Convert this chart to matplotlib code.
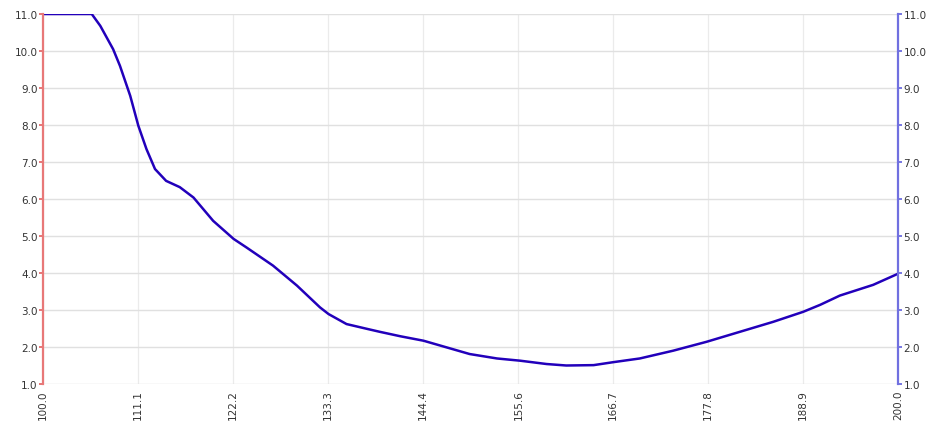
import numpy as np
import matplotlib
matplotlib.use("Agg")
import matplotlib.pyplot as plt

# values
x_vals = [100.0, 105.7, 106.7, 108.2, 109.0, 110.2, 111.15, 112.1, 113.1, 114.4,
          116.0, 117.6, 119.9, 122.3, 123.8, 126.9, 129.7, 132.4, 133.4, 135.5,
          137.9, 139.4, 141.8, 144.5, 147.2, 149.9, 153.1, 155.8, 158.9, 161.2,
          164.4, 166.7, 169.8, 173.7, 177.6, 181.5, 185.4, 188.9, 190.9, 193.2,
          197.1, 200.0]
y_vals = [11.0, 11.0, 10.68, 10.05, 9.6, 8.79, 7.98, 7.35, 6.81, 6.49,
          6.32, 6.04, 5.41, 4.92, 4.69, 4.2, 3.66, 3.07, 2.89, 2.62,
          2.49, 2.41, 2.29, 2.17, 1.99, 1.81, 1.69, 1.63, 1.54, 1.5,
          1.51, 1.59, 1.69, 1.9, 2.14, 2.41, 2.68, 2.95, 3.14, 3.39,
          3.68, 3.98]

x_ticks = [100.0, 111.1, 122.2, 133.3, 144.4, 155.6, 166.7, 177.8, 188.9, 200.0]
y_ticks = [1.0, 2.0, 3.0, 4.0, 5.0, 6.0, 7.0, 8.0, 9.0, 10.0, 11.0]

fig = plt.figure(figsize=(9.37, 4.27), dpi=100)
ax = fig.add_axes([43 / 937, 1 - 385 / 427, 855 / 937, 370 / 427])

ax.plot(x_vals, y_vals, color="#2200bb", linewidth=1.8, solid_joinstyle="round")

ax.set_xlim(100, 200)
ax.set_ylim(1, 11)
ax.set_xticks(x_ticks)
ax.set_xticklabels(["%.1f" % v for v in x_ticks], rotation=90, fontsize=7.5, color="#333333")
ax.set_yticks(y_ticks)
ax.set_yticklabels(["%.1f" % v for v in y_ticks], fontsize=7.5, color="#333333")
ax.tick_params(axis="x", length=0, pad=4)
ax.tick_params(axis="y", length=3, width=1.2, color="#e06060", pad=1)
ax.grid(True, axis="y", color="#e0e0e0", linewidth=1.0)
ax.grid(True, axis="x", color="#ebebeb", linewidth=0.9)
ax.set_axisbelow(True)

ax2 = ax.twinx()
ax2.set_ylim(1, 11)
ax2.set_yticks(y_ticks)
ax2.set_yticklabels(["%.1f" % v for v in y_ticks], fontsize=7.5, color="#333333")
ax2.tick_params(axis="y", length=3, width=1.2, color="#6060dd", pad=1)

for a in (ax, ax2):
    a.spines["top"].set_visible(False)
    a.spines["bottom"].set_visible(False)
ax.spines["right"].set_visible(False)
ax.spines["left"].set_color("#e87878")
ax.spines["left"].set_linewidth(1.6)
ax2.spines["left"].set_visible(False)
ax2.spines["right"].set_color("#7070e0")
ax2.spines["right"].set_linewidth(1.6)

fig.savefig("out.png", dpi=100)
